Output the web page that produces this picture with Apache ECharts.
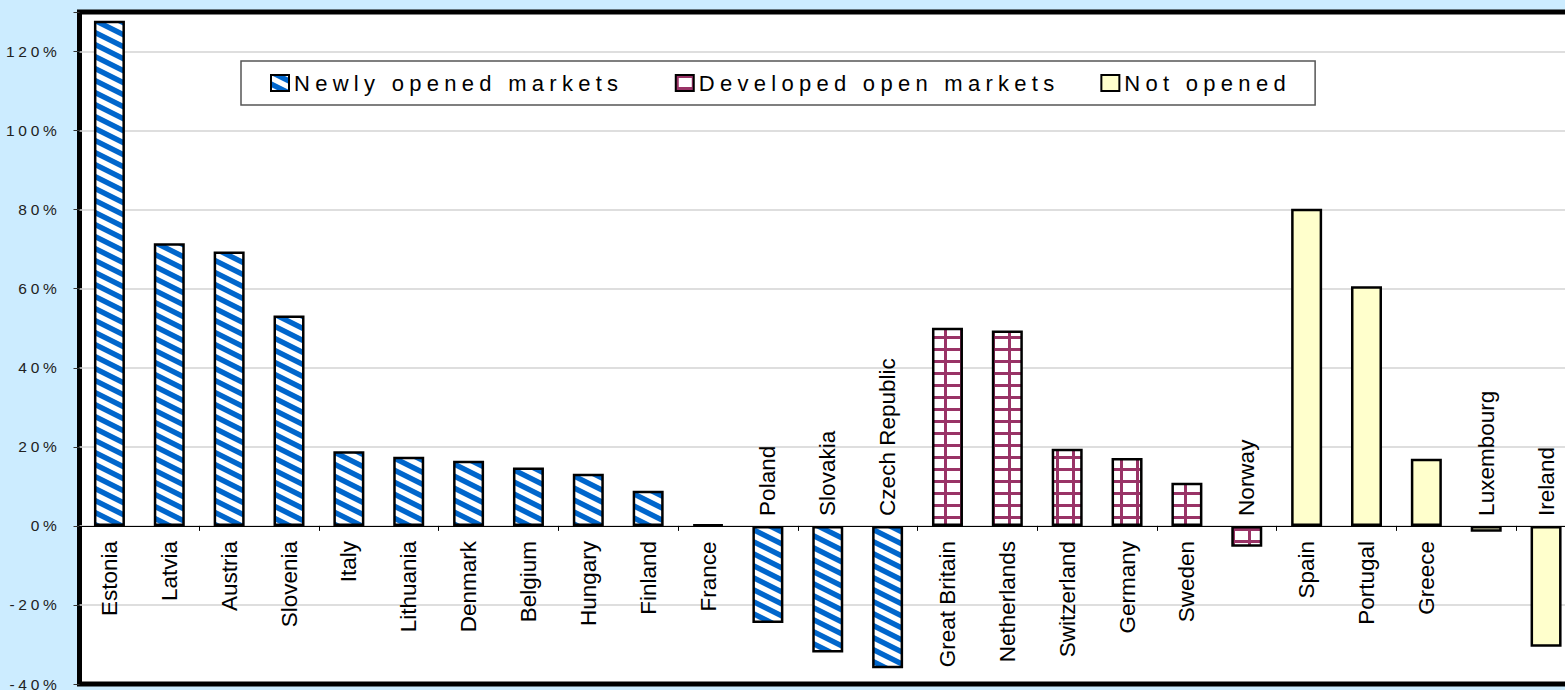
<!DOCTYPE html>
<html>
<head>
<meta charset="utf-8">
<script src="https://cdn.jsdelivr.net/npm/echarts@6/dist/echarts.min.js"></script>
<style>
  html, body { margin: 0; padding: 0; background: #ccecff; }
  #chart { width: 1565px; height: 690px; }
  /* Excel-style wide letter spacing for legend and value labels */
  #chart text[style*="Arial"] { letter-spacing: 0.24em; }
</style>
</head>
<body>
<div id="chart"></div>
<script>
const newlyNames = ['Estonia', 'Latvia', 'Austria', 'Slovenia', 'Italy', 'Lithuania', 'Denmark', 'Belgium', 'Hungary', 'Finland', 'France', 'Poland', 'Slovakia', 'Czech Republic']
const newlyValues = [127.8, 71.5, 69.4, 53.2, 18.9, 17.5, 16.5, 14.8, 13.2, 8.9, 0.3, -24.6, -32.0, -36.0]

const developedNames = ['Great Britain', 'Netherlands', 'Switzerland', 'Germany', 'Sweden', 'Norway']
const developedValues = [50.1, 49.4, 19.5, 17.2, 10.9, -5.3]

const notOpenedNames = ['Spain', 'Portugal', 'Greece', 'Luxembourg', 'Ireland']
const notOpenedValues = [80.2, 60.6, 17.0, -1.5, -30.6]

const yMin = -40
const yMax = 130
const yStep = 20

const categories = newlyNames.concat(developedNames, notOpenedNames)

// fill patterns
const stripePattern = () => {
  const c = document.createElement('canvas')
  c.width = 24
  c.height = 12
  const g = c.getContext('2d')
  g.fillStyle = '#0066cc'
  g.fillRect(0, 0, 24, 12)
  g.fillStyle = '#ffffff'
  for (const dy of [-12, 0, 12]) {
    g.beginPath()
    g.moveTo(0, dy)
    g.lineTo(24, dy + 12)
    g.lineTo(24, dy + 18)
    g.lineTo(0, dy + 6)
    g.closePath()
    g.fill()
  }
  return { image: c, repeat: 'repeat', imageWidth: 24, imageHeight: 12 }
}

const gridPattern = () => {
  const c = document.createElement('canvas')
  c.width = 16
  c.height = 12
  const g = c.getContext('2d')
  g.fillStyle = '#ffffff'
  g.fillRect(0, 0, 16, 12)
  g.fillStyle = '#993366'
  g.fillRect(0, 0, 3, 12)
  g.fillRect(0, 0, 16, 3)
  return { image: c, repeat: 'repeat', imageWidth: 16, imageHeight: 12 }
}

const posLabel = { position: 'bottom', distance: 15, align: 'right', verticalAlign: 'middle' }
const negLabel = { position: 'top', distance: 10, align: 'left', verticalAlign: 'middle' }

const buildData = (names, values) => categories.map(c => {
  const i = names.indexOf(c)
  if (i < 0) return '-'
  const v = values[i]
  return { value: v, label: v >= 0 ? posLabel : negLabel }
})

const makeSeries = (name, names, values, color) => ({
  name,
  type: 'bar',
  stack: 'all',
  barWidth: 31,
  data: buildData(names, values),
  itemStyle: { color, borderColor: '#000', borderWidth: 2.5 },
  label: {
    show: true,
    rotate: 90,
    formatter: p => p.name,
    fontFamily: 'Liberation Sans',
    fontSize: 22.5,
    color: '#000'
  },
  emphasis: { disabled: true }
})

const chart = echarts.init(document.getElementById('chart'), null, { renderer: 'svg' })

chart.setOption({
  backgroundColor: '#ccecff',
  animation: false,
  legend: {
    left: 241,
    top: 61,
    padding: [11, 77, 11, 29],
    itemGap: 157,
    itemWidth: 18,
    itemHeight: 16,
    icon: 'rect',
    backgroundColor: '#fff',
    borderColor: '#555',
    borderWidth: 1.5,
    textStyle: { fontFamily: 'Arial', fontSize: 22, color: '#000' },
    data: ['Newly opened markets', 'Developed open markets', 'Not opened']
  },
  grid: {
    left: 79.5,
    top: 12,
    right: -11,
    bottom: 6,
    show: true,
    backgroundColor: '#fff',
    borderColor: '#000',
    borderWidth: 5,
    containLabel: false,
    outerBoundsMode: 'none'
  },
  xAxis: {
    type: 'category',
    data: categories,
    axisLine: { onZero: true, lineStyle: { color: '#000', width: 1 } },
    axisTick: { show: true, length: 5, lineStyle: { color: '#000' } },
    axisLabel: { show: false },
    splitLine: { show: false }
  },
  yAxis: {
    type: 'value',
    min: yMin,
    max: yMax,
    interval: yStep,
    axisLine: { show: false },
    axisTick: { show: true, length: 6, lineStyle: { color: '#333' } },
    axisLabel: {
      formatter: v => (v === yMax ? '' : v + '%'),
      fontFamily: 'Arial',
      fontSize: 15.5,
      color: '#222',
      margin: 19
    },
    splitLine: {
      show: true,
      showMinLine: false,
      showMaxLine: false,
      lineStyle: { color: '#d3d3d3', width: 1.5 }
    }
  },
  series: [
    makeSeries('Newly opened markets', newlyNames, newlyValues, stripePattern()),
    makeSeries('Developed open markets', developedNames, developedValues, gridPattern()),
    makeSeries('Not opened', notOpenedNames, notOpenedValues, '#ffffcc')
  ]
})
</script>
</body>
</html>
